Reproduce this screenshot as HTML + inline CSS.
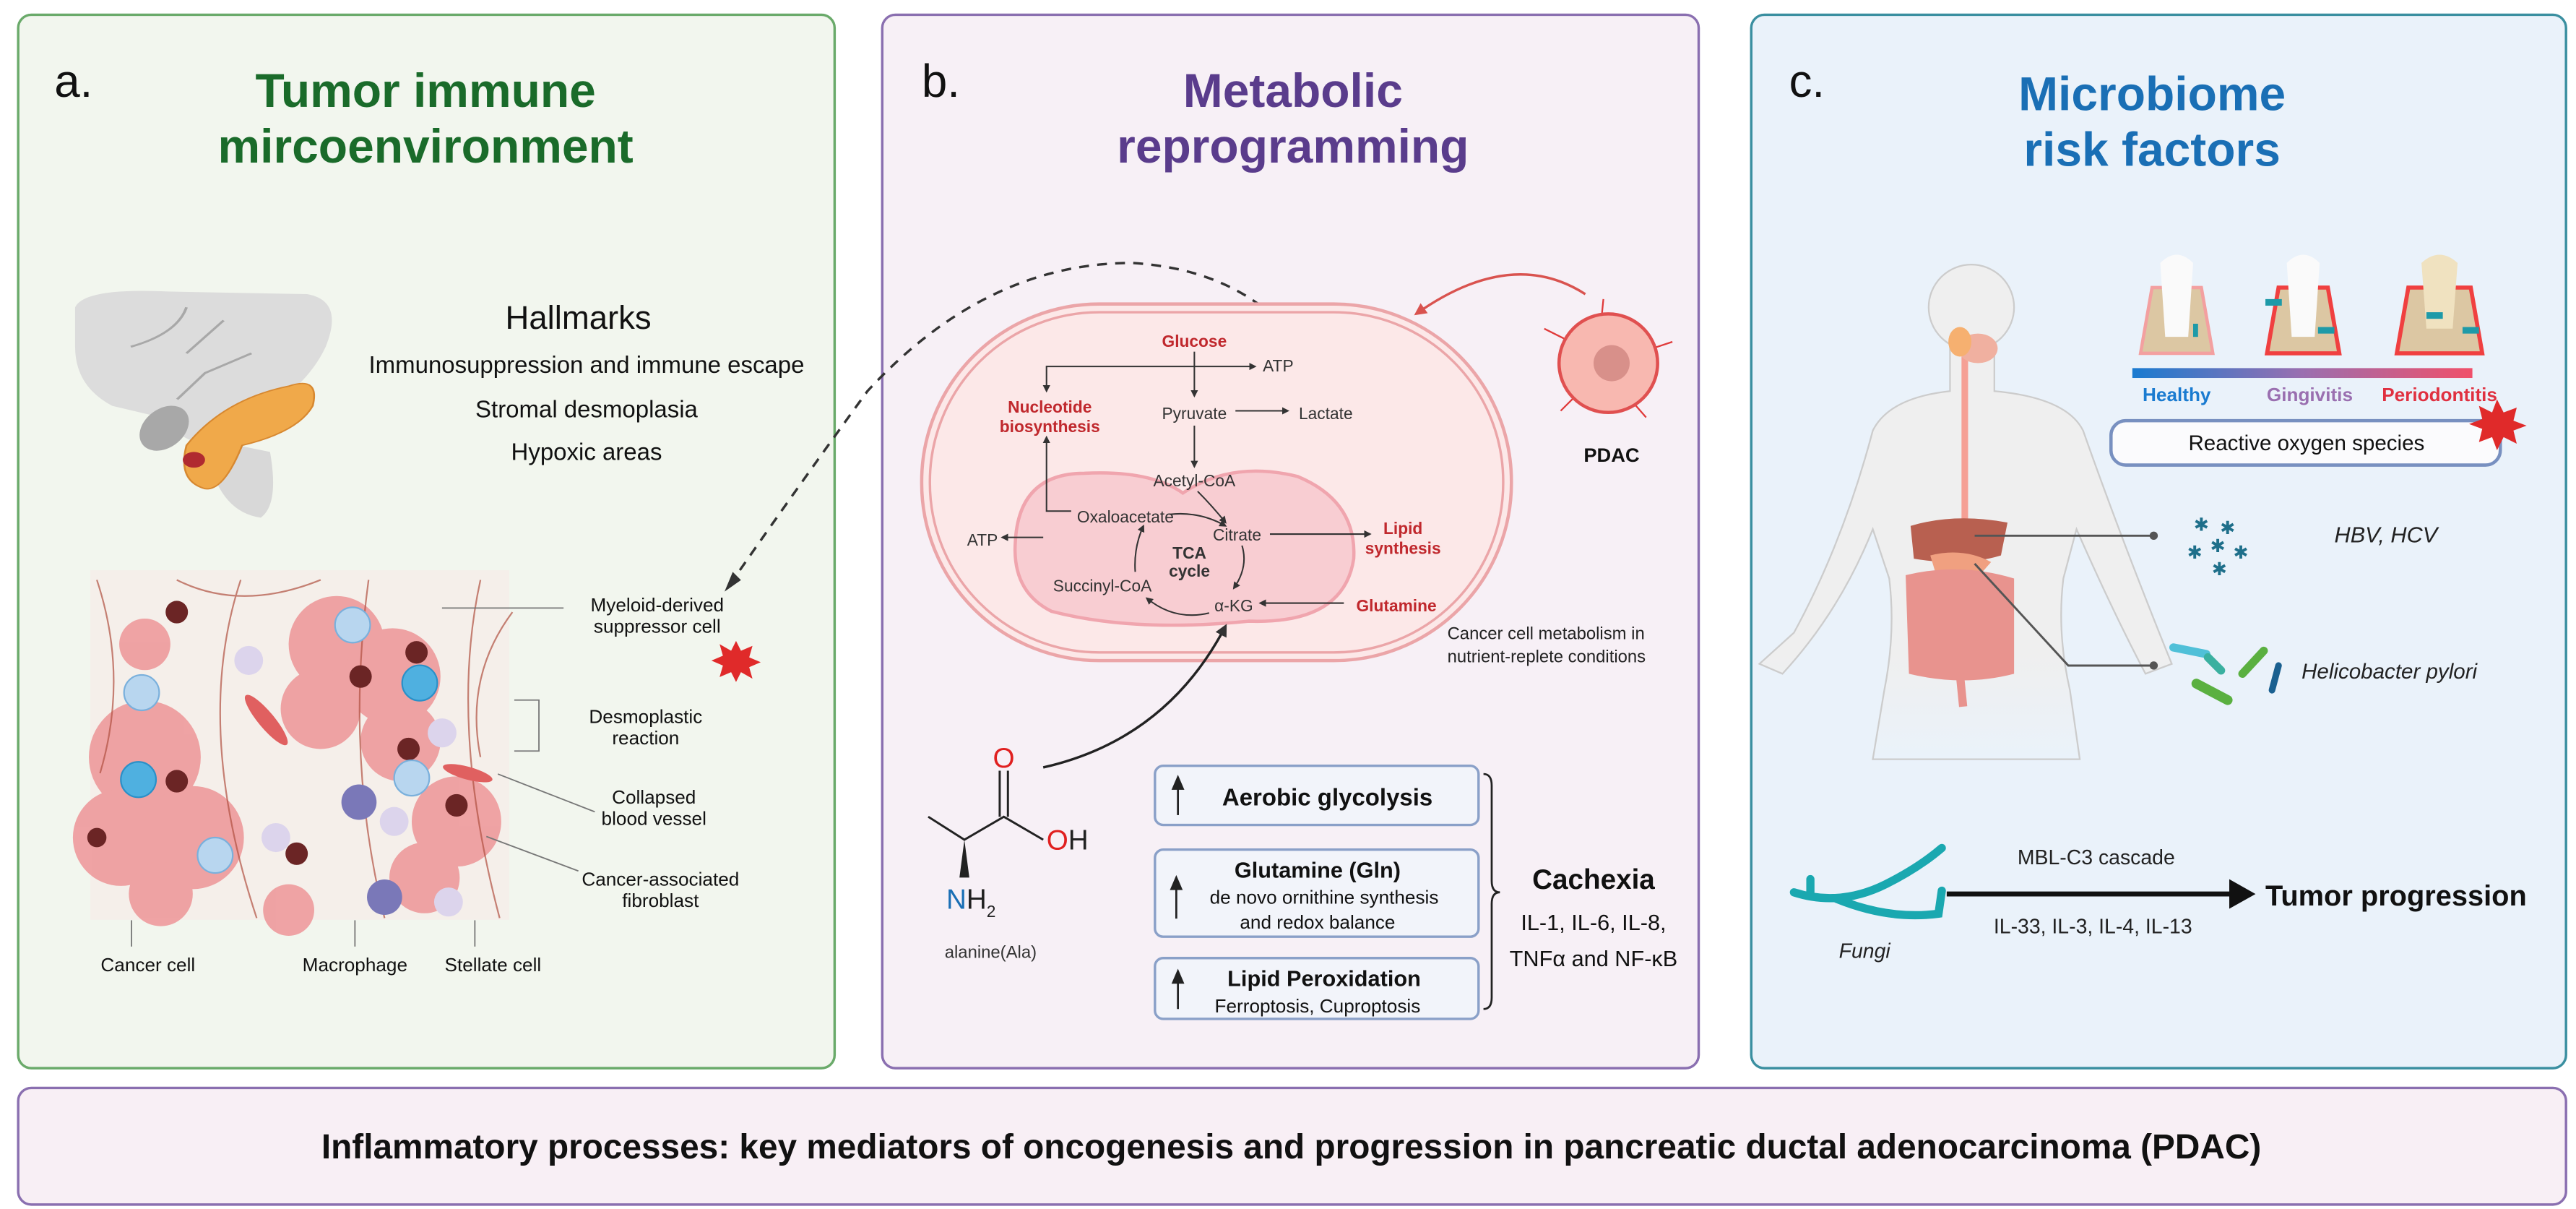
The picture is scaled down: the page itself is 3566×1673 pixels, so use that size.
<!DOCTYPE html>
<html><head><meta charset="utf-8"><style>
html,body{margin:0;padding:0;background:#fff;width:3566px;height:1673px;overflow:hidden}
svg{display:block}
text{font-family:"Liberation Sans",Arial,sans-serif}
</style></head><body>
<svg width="3566" height="1673" viewBox="0 0 1568 735.7" xmlns="http://www.w3.org/2000/svg">
<defs>
<marker id="ah" viewBox="0 0 10 10" refX="8" refY="5" markerWidth="5" markerHeight="5" orient="auto"><path d="M0,0L10,5L0,10z" fill="#333"/></marker>
<marker id="ahr" viewBox="0 0 10 10" refX="8" refY="5" markerWidth="5" markerHeight="5" orient="auto"><path d="M0,0L10,5L0,10z" fill="#d9534f"/></marker>
<linearGradient id="gb" x1="0" x2="1"><stop offset="0" stop-color="#1a7bd0"/><stop offset="0.5" stop-color="#9a6fb0"/><stop offset="1" stop-color="#f0506a"/></linearGradient>
<linearGradient id="bodyfade" x1="0" y1="0" x2="0" y2="1"><stop offset="0.75" stop-color="#efefef"/><stop offset="1" stop-color="#efefef" stop-opacity="0"/></linearGradient>
</defs>

<!-- panels -->
<rect x="11" y="9" width="497" height="641" rx="8" fill="#f2f6ee" stroke="#6aaa6a" stroke-width="1.5"/>
<rect x="537" y="9" width="497" height="641" rx="8" fill="#f7f0f6" stroke="#8a6fb0" stroke-width="1.5"/>
<rect x="1066" y="9" width="496" height="641" rx="8" fill="#eaf2fa" stroke="#3a8fa0" stroke-width="1.5"/>
<rect x="11" y="662" width="1551" height="71" rx="8" fill="#f8eff5" stroke="#8a6fb0" stroke-width="1.5"/>
<text x="786" y="705" font-size="21" font-weight="bold" text-anchor="middle" fill="#111">Inflammatory processes: key mediators of oncogenesis and progression in pancreatic ductal adenocarcinoma (PDAC)</text>

<!-- panel a -->
<text x="33" y="59" font-size="28" fill="#111">a.</text>
<text x="259" y="65" font-size="29" font-weight="bold" fill="#1a6b2a" text-anchor="middle">Tumor immune</text>
<text x="259" y="99" font-size="29" font-weight="bold" fill="#1a6b2a" text-anchor="middle">mircoenvironment</text>
<g transform="translate(40,175) scale(1.13,0.8) translate(-35,-125)">
<path d="M40,140 Q45,125 90,128 L165,130 Q185,135 175,170 Q165,200 140,220 L120,240 Q100,250 90,225 L60,215 Q40,200 40,170 Z" fill="#dcdcdc"/>
<path d="M110,240 Q115,295 140,300 Q150,290 145,250" fill="#d8d8d8"/>
<path d="M70,170 Q95,160 100,140 M100,175 L120,150 M95,210 L110,190 L135,175" stroke="#a8a8a8" fill="none" stroke-width="1.5"/>
<ellipse cx="88" cy="232" rx="12" ry="18" fill="#a8a8a8" transform="rotate(25 88 232)"/>
<path d="M100,245 Q120,210 155,200 Q172,192 168,215 Q160,235 130,245 Q120,280 110,278 Q95,272 100,245Z" fill="#f0a94a" stroke="#d78830"/>
<circle cx="104" cy="256" r="6" fill="#b02a30"/>
</g>
<text x="352" y="200" font-size="20" text-anchor="middle" fill="#111">Hallmarks</text>
<text x="357" y="227" font-size="14.5" text-anchor="middle" fill="#111">Immunosuppression and immune escape</text>
<text x="357" y="254" font-size="14.5" text-anchor="middle" fill="#111">Stromal desmoplasia</text>
<text x="357" y="280" font-size="14.5" text-anchor="middle" fill="#111">Hypoxic areas</text>
<g transform="translate(55,347) scale(0.973,0.98) translate(-56,-354)">
<rect x="56" y="354" width="262" height="217" fill="#f7e8e6" opacity="0.5"/>
<g fill="#ee9a9c" opacity="0.9">
<circle cx="90" cy="470" r="35"/><circle cx="75" cy="520" r="30"/><circle cx="120" cy="520" r="32"/><circle cx="100" cy="555" r="20"/>
<circle cx="210" cy="400" r="30"/><circle cx="245" cy="420" r="30"/><circle cx="200" cy="440" r="25"/><circle cx="250" cy="460" r="25"/>
<circle cx="285" cy="510" r="28"/><circle cx="265" cy="545" r="22"/><circle cx="90" cy="400" r="16"/><circle cx="180" cy="565" r="16"/>
</g>
<g stroke="#b05040" stroke-width="1" fill="none" opacity="0.7">
<path d="M60,360 Q80,420 62,480"/><path d="M150,360 Q120,450 160,570"/><path d="M300,360 Q280,450 312,570"/><path d="M230,360 Q215,470 240,570"/><path d="M110,360 Q150,380 200,360"/><path d="M320,380 Q290,420 300,470"/>
</g>
<g fill="#6b2525"><circle cx="110" cy="380" r="7"/><circle cx="225" cy="420" r="7"/><circle cx="260" cy="405" r="7"/><circle cx="255" cy="465" r="7"/><circle cx="60" cy="520" r="6"/><circle cx="110" cy="485" r="7"/><circle cx="185" cy="530" r="7"/><circle cx="285" cy="500" r="7"/></g>
<g fill="#b8d6ef" stroke="#7ab0dc"><circle cx="220" cy="388" r="11"/><circle cx="88" cy="430" r="11"/><circle cx="134" cy="531" r="11"/><circle cx="257" cy="483" r="11"/></g>
<g fill="#4fb0e0" stroke="#2a90c8"><circle cx="86" cy="484" r="11"/><circle cx="262" cy="424" r="11"/></g>
<g fill="#7a78b8"><circle cx="224" cy="498" r="11"/><circle cx="240" cy="557" r="11"/></g>
<g fill="#dcd4ec"><circle cx="155" cy="410" r="9"/><circle cx="172" cy="520" r="9"/><circle cx="246" cy="510" r="9"/><circle cx="276" cy="455" r="9"/><circle cx="280" cy="560" r="9"/></g>
<ellipse cx="166" cy="447" rx="20" ry="5" fill="#e06060" transform="rotate(50 166 447)"/>
<ellipse cx="292" cy="480" rx="16" ry="4" fill="#e06060" transform="rotate(15 292 480)"/>
</g>
<g stroke="#777" stroke-width="0.8" fill="none">
<path d="M269,370 L343,370"/><path d="M313,426 L328,426 L328,457 L313,457"/><path d="M303,471 L362,494"/><path d="M296,509 L352,530"/><path d="M80,560 L80,576"/><path d="M216,560 L216,576"/><path d="M289,560 L289,576"/>
</g>
<g font-size="11.5" fill="#111" text-anchor="middle">
<text x="400" y="372">Myeloid-derived</text><text x="400" y="385">suppressor cell</text>
<text x="393" y="440">Desmoplastic</text><text x="393" y="453">reaction</text>
<text x="398" y="489">Collapsed</text><text x="398" y="502">blood vessel</text>
<text x="402" y="539">Cancer-associated</text><text x="402" y="552">fibroblast</text>
<text x="90" y="591">Cancer cell</text><text x="216" y="591">Macrophage</text><text x="300" y="591">Stellate cell</text>
</g>
<polygon points="448,390 451,396 458,393 456,400 463,403 456,406 458,413 451,409 448,415 445,409 438,412 440,405 433,402 440,399 438,392 445,396" fill="#e02a2a"/>
<!-- dashed arrow -->
<path d="M444,356 Q490,290 528,238 Q600,160 689,160 Q770,165 803,229" stroke="#333" stroke-width="1.5" stroke-dasharray="6,5" fill="none"/>
<path d="M441,360 L446,348 L451,353Z" fill="#333"/>

<!-- panel b -->
<text x="561" y="59" font-size="28" fill="#111">b.</text>
<text x="787" y="65" font-size="29" font-weight="bold" fill="#5a3c8c" text-anchor="middle">Metabolic</text>
<text x="787" y="99" font-size="29" font-weight="bold" fill="#5a3c8c" text-anchor="middle">reprogramming</text>
<rect x="561" y="185" width="359" height="217" rx="108" fill="#fce8e8" stroke="#eba5a8" stroke-width="2"/>
<rect x="566" y="190" width="349" height="207" rx="103" fill="none" stroke="#eba5a8" stroke-width="1.5"/>
<path d="M618,330 Q620,288 660,288 Q700,286 720,300 Q750,280 790,290 Q826,305 824,340 Q818,380 760,378 Q690,385 640,372 Q616,360 618,330Z" fill="#f8cdd2" stroke="#f0a5ae" stroke-width="2"/>
<g font-size="10" fill="#333" text-anchor="middle">
<text x="727" y="255">Pyruvate</text><text x="807" y="255">Lactate</text><text x="778" y="226">ATP</text>
<text x="727" y="296">Acetyl-CoA</text><text x="685" y="318">Oxaloacetate</text><text x="753" y="329">Citrate</text>
<text x="598" y="332">ATP</text><text x="671" y="360">Succinyl-CoA</text><text x="751" y="372">α-KG</text>
</g>
<g font-size="10" font-weight="bold" fill="#c0282d" text-anchor="middle">
<text x="727" y="211">Glucose</text><text x="639" y="251">Nucleotide</text><text x="639" y="263">biosynthesis</text>
<text x="854" y="325">Lipid</text><text x="854" y="337">synthesis</text><text x="850" y="372">Glutamine</text>
</g>
<g font-size="10" font-weight="bold" fill="#333" text-anchor="middle"><text x="724" y="340">TCA</text><text x="724" y="351">cycle</text></g>
<g stroke="#333" stroke-width="0.9" fill="none" marker-end="url(#ah)">
<path d="M727,214 L727,241"/><path d="M727,223 L637,223 L637,238"/><path d="M727,223 L764,223"/>
<path d="M752,250 L784,250"/><path d="M727,259 L727,284"/><path d="M652,311 L637,311 L637,266"/>
<path d="M635,327 L610,327"/><path d="M773,325 L834,325"/><path d="M818,367 L767,367"/>
<path d="M729,299 Q738,308 746,318"/><path d="M712,313 Q730,311 746,320"/><path d="M756,332 Q760,345 751,358"/><path d="M736,373 Q715,378 698,364"/><path d="M691,348 Q690,333 696,320"/>
</g>
<!-- PDAC -->
<path d="M965,179 Q920,150 862,191" stroke="#d9534f" stroke-width="1.5" fill="none" marker-end="url(#ahr)"/>
<g stroke="#e03a3a" stroke-width="1"><path d="M952,206 L940,200 M1006,212 L1018,208 M995,246 L1002,254 M958,242 L950,250 M975,192 L976,182"/></g>
<circle cx="979" cy="221" r="30" fill="#f8b8b0" stroke="#e05050" stroke-width="2"/>
<circle cx="981" cy="221" r="11" fill="#d8908a"/>
<text x="981" y="281" font-size="12" font-weight="bold" fill="#111" text-anchor="middle">PDAC</text>
<text x="881" y="389" font-size="10.5" fill="#222">Cancer cell metabolism in</text>
<text x="881" y="403" font-size="10.5" fill="#222">nutrient-replete conditions</text>
<!-- alanine -->
<path d="M635,467 Q710,450 746,381" stroke="#222" stroke-width="1.5" fill="none" marker-end="url(#ah)"/>
<g stroke="#222" stroke-width="1.3" fill="none"><path d="M565,497 L587,511 L611,497 L635,511"/><path d="M608.5,469 L608.5,497 M613.5,469 L613.5,497"/></g>
<path d="M587,511 L584,534 L590,534Z" fill="#222"/>
<text x="611" y="467" font-size="17" fill="#e02020" text-anchor="middle">O</text>
<text x="637" y="517" font-size="17" fill="#e02020">O<tspan fill="#222">H</tspan></text>
<text x="576" y="553" font-size="17" fill="#1a6fb5">N<tspan fill="#222">H</tspan><tspan fill="#222" font-size="10" dy="5">2</tspan></text>
<text x="603" y="583" font-size="10.5" fill="#333" text-anchor="middle">alanine(Ala)</text>
<!-- boxes -->
<g fill="#f2f4fa" stroke="#8aa0c8" stroke-width="1.5">
<rect x="703" y="466" width="197" height="36" rx="5"/><rect x="703" y="517" width="197" height="53" rx="5"/><rect x="703" y="583" width="197" height="37" rx="5"/>
</g>
<g stroke="#222" stroke-width="1.2" fill="#222">
<path d="M717,496 L717,476"/><path d="M714,480 L717,473 L720,480Z"/>
<path d="M716,559 L716,537"/><path d="M713,541 L716,534 L719,541Z"/>
<path d="M717,614 L717,594"/><path d="M714,598 L717,591 L720,598Z"/>
</g>
<text x="808" y="490" font-size="14.5" font-weight="bold" text-anchor="middle" fill="#111">Aerobic glycolysis</text>
<text x="802" y="534" font-size="13.5" font-weight="bold" text-anchor="middle" fill="#111">Glutamine (Gln)</text>
<text x="806" y="550" font-size="11.5" text-anchor="middle" fill="#111">de novo ornithine synthesis</text>
<text x="802" y="565" font-size="11.5" text-anchor="middle" fill="#111">and redox balance</text>
<text x="806" y="600" font-size="13.5" font-weight="bold" text-anchor="middle" fill="#111">Lipid Peroxidation</text>
<text x="802" y="616" font-size="11.5" text-anchor="middle" fill="#111">Ferroptosis, Cuproptosis</text>
<path d="M903,471 Q908,471 908,478 L908,536 Q908,543 913,543 Q908,543 908,550 L908,607 Q908,614 903,614" stroke="#222" stroke-width="1.2" fill="none"/>
<text x="970" y="541" font-size="17" font-weight="bold" text-anchor="middle" fill="#111">Cachexia</text>
<text x="970" y="566" font-size="13.5" text-anchor="middle" fill="#111">IL-1, IL-6, IL-8,</text>
<text x="970" y="588" font-size="13.5" text-anchor="middle" fill="#111">TNFα and NF-κB</text>

<!-- panel c -->
<text x="1089" y="59" font-size="28" fill="#111">c.</text>
<text x="1310" y="67" font-size="29" font-weight="bold" fill="#1a6fb5" text-anchor="middle">Microbiome</text>
<text x="1310" y="101" font-size="29" font-weight="bold" fill="#1a6fb5" text-anchor="middle">risk factors</text>
<!-- body -->
<path d="M1187,208 L1187,238 Q1150,242 1140,262 Q1122,330 1092,385 L1071,404 L1085,410 Q1120,372 1140,322 L1150,352 Q1154,385 1147,420 L1140,462 L1266,462 L1260,420 Q1252,385 1256,352 L1264,322 Q1286,372 1306,410 L1322,404 Q1292,330 1268,262 Q1258,242 1214,238 L1214,208 Z" fill="url(#bodyfade)" stroke="#cccccc" stroke-width="1"/>
<ellipse cx="1200" cy="187" rx="26" ry="26" fill="#efefef" stroke="#cccccc"/>
<path d="M1196,212 L1196,316" stroke="#f5a095" stroke-width="4" fill="none"/>
<ellipse cx="1204" cy="212" rx="12" ry="9" fill="#f0b0a0"/>
<ellipse cx="1193" cy="208" rx="7" ry="9" fill="#f6b070"/>
<path d="M1163,320 Q1190,312 1222,318 L1218,338 Q1195,345 1165,340Z" fill="#b86050"/>
<path d="M1175,338 Q1195,333 1212,342 L1205,350 Q1190,352 1178,348Z" fill="#f0a080"/>
<path d="M1160,350 Q1193,342 1226,352 L1226,410 Q1195,418 1162,410Z" fill="#e8938e"/>
<path d="M1193,410 L1195,430" stroke="#e8938e" stroke-width="5"/>
<!-- teeth -->
<g>
<path d="M1303,215 L1310,175 L1340,175 L1347,215Z" fill="#dcc7a3" stroke="#f3a0a0" stroke-width="2"/>
<path d="M1315,160 Q1325,150 1335,160 L1332,205 L1318,205Z" fill="#fafafa"/>
<path d="M1380,215 L1387,175 L1417,175 L1424,215Z" fill="#dcc7a3" stroke="#f04040" stroke-width="2.5"/>
<path d="M1392,160 Q1402,150 1412,160 L1409,205 L1395,205Z" fill="#fafafa"/>
<path d="M1459,215 L1466,175 L1504,175 L1511,215Z" fill="#dcc7a3" stroke="#f04040" stroke-width="2.5"/>
<path d="M1474,160 Q1485,150 1496,160 L1493,200 L1477,200Z" fill="#f0e2c0"/>
<rect x="1335" y="197" width="3" height="8" fill="#1e9aa8"/><rect x="1379" y="182" width="10" height="4" fill="#1e9aa8"/><rect x="1411" y="199" width="10" height="4" fill="#1e9aa8"/><rect x="1477" y="190" width="10" height="4" fill="#1e9aa8"/><rect x="1499" y="199" width="10" height="4" fill="#1e9aa8"/>
</g>
<rect x="1298" y="224" width="207" height="6" fill="url(#gb)"/>
<g font-size="11.5" font-weight="bold" text-anchor="middle"><text x="1325" y="244" fill="#1a7bd0">Healthy</text><text x="1406" y="244" fill="#9a6fb0">Gingivitis</text><text x="1485" y="244" fill="#e03040">Periodontitis</text></g>
<rect x="1285" y="256" width="237" height="27" rx="9" fill="#fbfbfd" stroke="#7890c0" stroke-width="2"/>
<text x="1404" y="274" font-size="13" text-anchor="middle" fill="#111">Reactive oxygen species</text>
<polygon points="1520,243 1524,251 1532,248 1530,256 1538,259 1530,262 1532,270 1524,266 1520,274 1517,266 1509,269 1511,261 1503,258 1511,255 1509,247 1517,251" fill="#e02a2a"/>
<g stroke="#555" stroke-width="1.3" fill="none">
<path d="M1202,326 L1311,326"/>
<path d="M1202,343 L1259,405 L1311,405"/>
</g>
<circle cx="1311" cy="326" r="2.5" fill="#555"/><circle cx="1311" cy="405" r="2.5" fill="#555"/>
<g fill="#1e6f8a" font-size="11" text-anchor="middle"><text x="1340" y="323">✱</text><text x="1356" y="325">✱</text><text x="1350" y="336">✱</text><text x="1336" y="340">✱</text><text x="1364" y="340">✱</text><text x="1351" y="350">✱</text></g>
<text x="1421" y="330" font-size="13.5" font-style="italic" fill="#222">HBV, HCV</text>
<g stroke-linecap="round" fill="none"><path d="M1323,394 L1343,398" stroke="#50c0d8" stroke-width="5"/><path d="M1344,400 L1352,408" stroke="#3ab0a0" stroke-width="5"/><path d="M1337,416 L1356,426" stroke="#5ab040" stroke-width="6"/><path d="M1365,410 L1378,396" stroke="#5ab040" stroke-width="5"/><path d="M1383,420 L1387,405" stroke="#1a6090" stroke-width="4"/></g>
<text x="1401" y="413" font-size="13" font-style="italic" fill="#222">Helicobacter pylori</text>
<!-- fungi -->
<path d="M1092,543 Q1120,552 1148,538 Q1168,528 1182,516 M1118,547 Q1150,560 1180,556 L1182,542 M1102,543 L1102,535" stroke="#1aa8b0" stroke-width="5" stroke-linecap="round" fill="none"/>
<text x="1135" y="583" font-size="12.5" font-style="italic" fill="#222" text-anchor="middle">Fungi</text>
<path d="M1185,544 L1360,544" stroke="#111" stroke-width="3"/>
<path d="M1357,535 L1373,544 L1357,553Z" fill="#111"/>
<text x="1276" y="526" font-size="12.5" text-anchor="middle" fill="#222">MBL-C3 cascade</text>
<text x="1274" y="568" font-size="12.5" text-anchor="middle" fill="#222">IL-33, IL-3, IL-4, IL-13</text>
<text x="1379" y="551" font-size="17.5" font-weight="bold" fill="#111">Tumor progression</text>
</svg>
</body></html>
